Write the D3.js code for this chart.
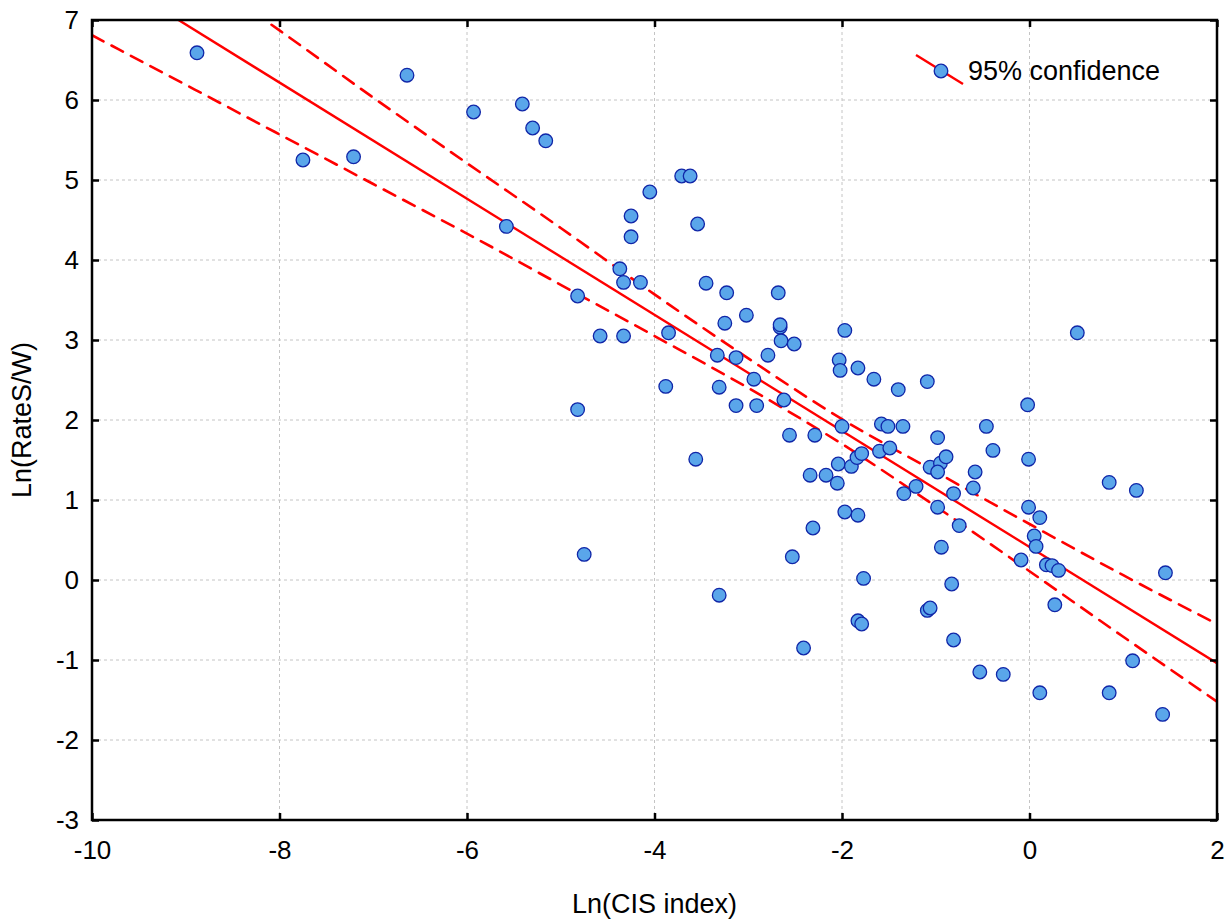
<!DOCTYPE html>
<html>
<head>
<meta charset="utf-8">
<script src="https://cdn.jsdelivr.net/npm/d3@7"></script>
<style>
  body { margin: 0; background: #fff; }
  text { font-family: "Liberation Sans", Arial, sans-serif; }
</style>
</head>
<body>
<svg id="chart" width="1229" height="920"></svg>
<script>
// scatter: Ln(CIS index) vs Ln(RateS/W)
var lnCis = [
  -8.88, -7.75, -7.21, -6.64, -5.93, -5.41, -5.30, -5.16, -5.58, -4.82,
  -4.82, -4.75, -4.58, -4.37, -4.33, -4.33, -4.25, -4.25, -4.15, -4.05,
  -3.85, -3.88, -3.71, -3.62, -3.54, -3.56, -3.45, -3.33, -3.31, -3.31,
  -3.23, -3.25, -3.13, -3.13, -3.02, -2.94, -2.91, -2.79, -2.68, -2.66,
  -2.65, -2.66, -2.62, -2.56, -2.51, -2.53, -2.41, -2.34, -2.31, -2.29,
  -2.17, -2.04, -2.05, -2.03, -2.02, -1.97, -2.00, -1.97, -1.90, -1.84,
  -1.83, -1.83, -1.83, -1.79, -1.79, -1.77, -1.66, -1.60, -1.58, -1.51,
  -1.49, -1.40, -1.35, -1.34, -1.21, -1.09, -1.09, -1.06, -1.06, -0.98,
  -0.95, -0.98, -0.98, -0.94, -0.89, -0.83, -0.81, -0.81, -0.75, -0.58,
  -0.60, -0.53, -0.46, -0.39, -0.28, -0.09, -0.02, -0.01, -0.01, 0.05,
  0.07, 0.11, 0.11, 0.18, 0.24, 0.27, 0.31, 0.51, 0.85, 0.85,
  1.10, 1.14, 1.42, 1.45
];
var lnRate = [
  6.59, 5.25, 5.29, 6.31, 5.85, 5.95, 5.65, 5.49, 4.42, 3.55,
  2.13, 0.32, 3.05, 3.89, 3.72, 3.05, 4.55, 4.29, 3.72, 4.85,
  3.09, 2.42, 5.05, 5.05, 4.45, 1.51, 3.71, 2.81, 2.41, -0.19,
  3.59, 3.21, 2.78, 2.18, 3.31, 2.51, 2.18, 2.81, 3.59, 3.16,
  2.99, 3.19, 2.25, 1.81, 2.95, 0.29, -0.85, 1.31, 0.65, 1.81,
  1.31, 1.45, 1.21, 2.75, 2.62, 3.12, 1.92, 0.85, 1.42, 1.53,
  2.65, 0.81, -0.51, 1.58, -0.55, 0.02, 2.51, 1.61, 1.95, 1.92,
  1.65, 2.38, 1.92, 1.08, 1.17, 2.48, -0.38, -0.35, 1.41, 1.78,
  1.46, 1.35, 0.91, 0.41, 1.54, -0.05, 1.08, -0.75, 0.68, 1.35,
  1.15, -1.15, 1.92, 1.62, -1.18, 0.25, 2.19, 1.51, 0.91, 0.55,
  0.42, 0.78, -1.41, 0.19, 0.18, -0.31, 0.12, 3.09, 1.22, -1.41,
  -1.01, 1.12, -1.68, 0.09
];

// fitted line and 95% band
var fitX = [-10, 2];
var fitY = [7.67, -1.04];
var bandX = [-10, -9, -8, -7, -6, -5, -4, -3, -2, -1, 0, 1, 2];
var bandUpper = [8.53, 7.69, 6.87, 6.03, 5.21, 4.40, 3.57, 2.77, 2.01, 1.35, 0.70, 0.06, -0.55];
var bandLower = [6.81, 6.19, 5.57, 4.95, 4.33, 3.69, 3.05, 2.40, 1.70, 0.92, 0.11, -0.71, -1.52];

var xTicks = [-10, -8, -6, -4, -2, 0, 2];
var yTicks = [-3, -2, -1, 0, 1, 2, 3, 4, 5, 6, 7];

var svg = d3.select("#chart");
var pLeft = 92, pTop = 20, pRight = 1217, pBottom = 820;

var x = d3.scaleLinear().domain([-10, 2]).range([pLeft, pRight]);
var y = d3.scaleLinear().domain([-3, 7]).range([pBottom, pTop]);

svg.append("defs").append("clipPath").attr("id", "plotclip")
  .append("rect")
  .attr("x", pLeft).attr("y", pTop)
  .attr("width", pRight - pLeft).attr("height", pBottom - pTop);

// grid
var grid = svg.append("g").attr("class", "grid");
grid.selectAll(".gx").data(xTicks.slice(1, -1)).enter().append("line")
  .attr("x1", d => x(d)).attr("x2", d => x(d))
  .attr("y1", pTop).attr("y2", pBottom)
  .attr("stroke", "#c4c4c4").attr("stroke-width", 1)
  .attr("stroke-dasharray", "3,3");
grid.selectAll(".gy").data(yTicks.slice(1, -1)).enter().append("line")
  .attr("x1", pLeft).attr("x2", pRight)
  .attr("y1", d => y(d)).attr("y2", d => y(d))
  .attr("stroke", "#c4c4c4").attr("stroke-width", 1)
  .attr("stroke-dasharray", "3,3");

var plot = svg.append("g").attr("clip-path", "url(#plotclip)");

var line = d3.line().x(d => x(d[0])).y(d => y(d[1]));
var bandLine = d3.line().x(d => x(d[0])).y(d => y(d[1])).curve(d3.curveMonotoneX);

plot.append("path")
  .datum(fitX.map((v, i) => [v, fitY[i]]))
  .attr("d", line)
  .attr("fill", "none").attr("stroke", "#ff0000").attr("stroke-width", 2.4);

[bandUpper, bandLower].forEach(function(band) {
  plot.append("path")
    .datum(bandX.map((v, i) => [v, band[i]]))
    .attr("d", bandLine)
    .attr("fill", "none").attr("stroke", "#ff0000").attr("stroke-width", 2.6)
    .attr("stroke-linecap", "round")
    .attr("stroke-dasharray", "13,9");
});

plot.append("g").selectAll("circle")
  .data(lnCis.map((v, i) => [v, lnRate[i]]))
  .enter().append("circle")
  .attr("cx", d => x(d[0])).attr("cy", d => y(d[1]))
  .attr("r", 6.8)
  .attr("fill", "#5aa6ea").attr("stroke", "#1026a8").attr("stroke-width", 1.3);

// axes, ticks pointing inward
function styleAxis(g) {
  g.select(".domain").remove();
  g.selectAll(".tick line").attr("stroke", "#000").attr("stroke-width", 2.5);
  g.selectAll(".tick text").attr("font-size", 26).attr("fill", "#000")
    .attr("font-family", "'Liberation Sans', Arial, sans-serif")
    .text(function() { return this.textContent.replace("\u2212", "-"); });
}

svg.append("g").attr("transform", "translate(0," + pBottom + ")")
  .call(d3.axisBottom(x).tickValues(xTicks).tickSize(-7).tickPadding(21).tickFormat(d3.format("d")))
  .call(styleAxis);
svg.append("g").attr("transform", "translate(" + pLeft + ",0)")
  .call(d3.axisLeft(y).tickValues(yTicks).tickSize(-7).tickPadding(13).tickFormat(d3.format("d")))
  .call(styleAxis);
svg.append("g").attr("transform", "translate(0," + pTop + ")")
  .call(d3.axisTop(x).tickValues(xTicks).tickSize(-7).tickFormat(""))
  .call(styleAxis);
svg.append("g").attr("transform", "translate(" + pRight + ",0)")
  .call(d3.axisRight(y).tickValues(yTicks).tickSize(-7).tickFormat(""))
  .call(styleAxis);

// frame
svg.append("rect")
  .attr("x", pLeft).attr("y", pTop)
  .attr("width", pRight - pLeft).attr("height", pBottom - pTop)
  .attr("fill", "none").attr("stroke", "#000").attr("stroke-width", 2.5);

// axis titles
svg.append("text")
  .attr("x", (pLeft + pRight) / 2).attr("y", 913)
  .attr("text-anchor", "middle").attr("font-size", 27)
  .text("Ln(CIS index)");
svg.append("text")
  .attr("transform", "translate(31," + (pTop + pBottom) / 2 + ") rotate(-90)")
  .attr("text-anchor", "middle").attr("font-size", 27)
  .text("Ln(RateS/W)");

// legend
var lg = svg.append("g");
lg.append("line")
  .attr("x1", 916).attr("y1", 55).attr("x2", 963).attr("y2", 84)
  .attr("stroke", "#ff0000").attr("stroke-width", 2.4);
lg.append("circle")
  .attr("cx", 941).attr("cy", 71).attr("r", 6.8)
  .attr("fill", "#5aa6ea").attr("stroke", "#1026a8").attr("stroke-width", 1.3);
lg.append("text")
  .attr("x", 968).attr("y", 80).attr("font-size", 27)
  .text("95% confidence");
</script>
</body>
</html>
